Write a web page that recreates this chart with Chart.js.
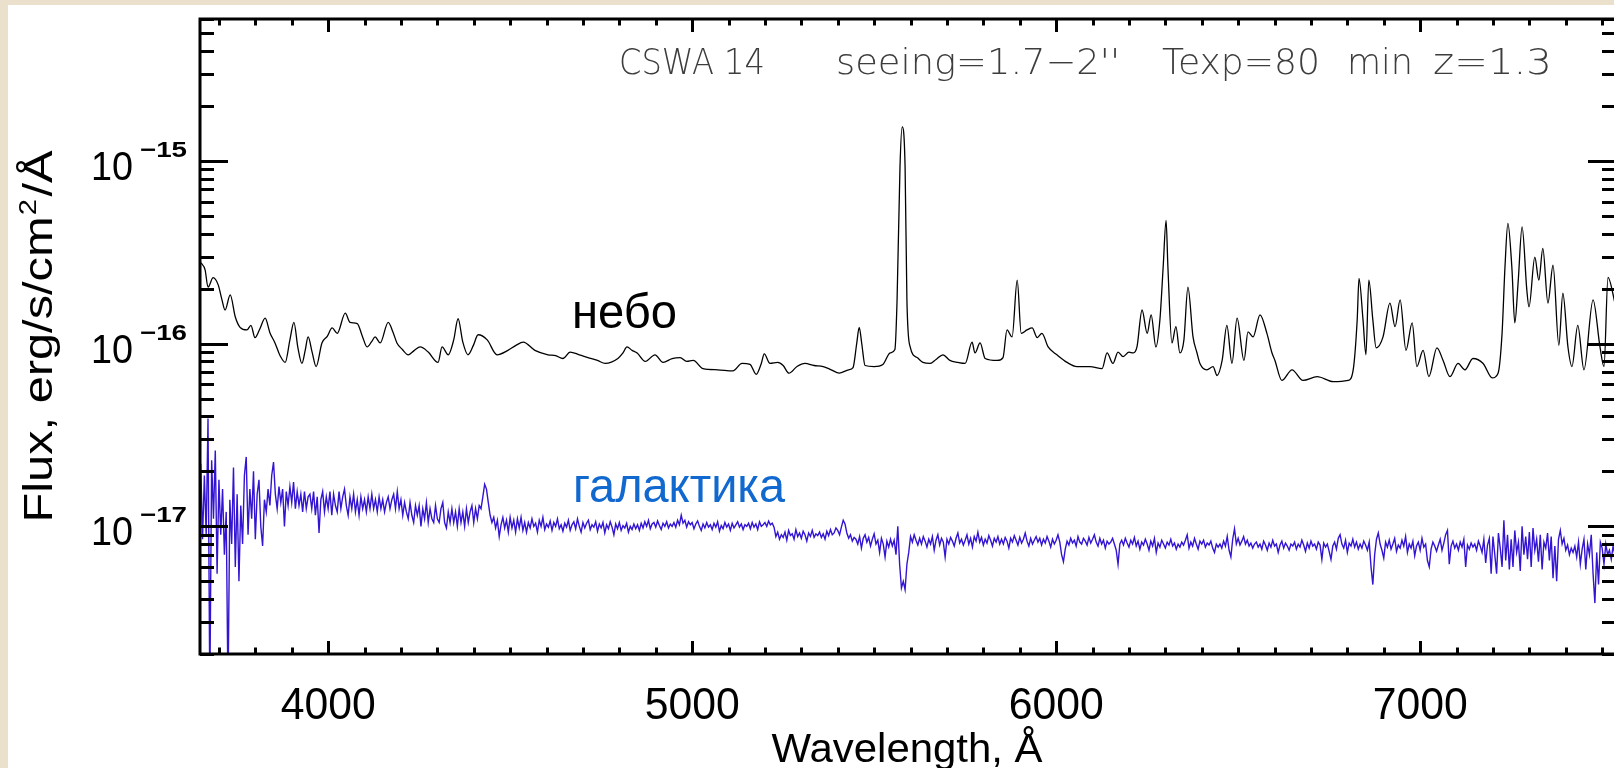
<!DOCTYPE html>
<html>
<head>
<meta charset="utf-8">
<script src="https://cdn.jsdelivr.net/npm/chart.js@4.4.1/dist/chart.umd.min.js"></script>
<style>
  html, body { margin: 0; padding: 0; width: 1614px; height: 768px; overflow: hidden; background: #ebe0cb; }
  #sheet { position: absolute; left: 8px; top: 5px; right: 0; bottom: 0; background: #fff; }
  #box { position: absolute; left: 0; top: 0; width: 1640px; height: 768px; }
</style>
</head>
<body>
<div id="sheet"></div>
<div id="box"><canvas id="spec"></canvas></div>
<script>
// Flux values are stored in units of 1e-17 erg/s/cm^2/A
const FLUX_UNIT = 1e-17;

// Axis ranges
const X_MIN = 3648, X_MAX = 7538;
const Y_MIN = 2.0e-18, Y_MAX = 6.0e-15;

// Tick marks and labels
const X_TICK_LABELS = [4000, 5000, 6000, 7000];
const X_MINOR_TICKS = [3700, 3800, 3900, 4000, 4100, 4200, 4300, 4400, 4500, 4600, 4700, 4800, 4900,
  5000, 5100, 5200, 5300, 5400, 5500, 5600, 5700, 5800, 5900, 6000, 6100, 6200, 6300, 6400, 6500,
  6600, 6700, 6800, 6900, 7000, 7100, 7200, 7300, 7400, 7500];
const Y_DECADES = [-18, -17, -16, -15];
const Y_TICK_LABELS = [-17, -16, -15];

// Night-sky spectrum ("небо")
const SKY_WAVE = [3651, 3662, 3670, 3684, 3698, 3708, 3717, 3731, 3745, 3758, 3777, 3788, 3799, 3812, 3827,
  3840, 3854, 3868, 3882, 3895, 3906, 3917, 3928, 3937, 3945, 3956, 3967, 3983, 3998, 4011, 4025, 4047,
  4060, 4080, 4094, 4107, 4120, 4129, 4143, 4165, 4178, 4189, 4204, 4220, 4237, 4253, 4275, 4302, 4313,
  4330, 4345, 4357, 4370, 4384, 4399, 4412, 4437, 4464, 4494, 4516, 4536, 4568, 4604, 4625, 4645, 4665,
  4690, 4714, 4740, 4761, 4796, 4810, 4821, 4835, 4849, 4871, 4898, 4920, 4945, 4967, 4985, 5003, 5030,
  5070, 5112, 5137, 5159, 5176, 5190, 5198, 5214, 5235, 5250, 5266, 5288, 5310, 5335, 5360, 5382, 5404,
  5430, 5442, 5452, 5459, 5466, 5475, 5500, 5524, 5544, 5557, 5563, 5571, 5577, 5585, 5590, 5599, 5618,
  5634, 5654, 5670, 5689, 5708, 5730, 5750, 5769, 5777, 5791, 5805, 5838, 5854, 5865, 5879, 5893, 5904,
  5920, 5934, 5948, 5961, 5978, 6002, 6030, 6057, 6093, 6126, 6140, 6156, 6170, 6184, 6200, 6212, 6222,
  6236, 6250, 6261, 6274, 6285, 6294, 6302, 6307, 6318, 6329, 6340, 6351, 6362, 6376, 6387, 6395, 6414,
  6431, 6442, 6456, 6469, 6483, 6497, 6516, 6527, 6541, 6560, 6579, 6593, 6601, 6620, 6648, 6678, 6717,
  6761, 6802, 6816, 6827, 6832, 6843, 6851, 6859, 6870, 6879, 6898, 6917, 6931, 6945, 6961, 6978, 6991,
  7008, 7024, 7046, 7063, 7082, 7104, 7123, 7145, 7173, 7198, 7214, 7225, 7233, 7241, 7252, 7260, 7269,
  7280, 7293, 7299, 7315, 7326, 7337, 7351, 7365, 7381, 7392, 7406, 7417, 7433, 7450, 7475, 7494, 7505,
  7516, 7533, 7549];
const SKY_FLUX = [27.7, 25.4, 20.4, 23.0, 21.0, 17.5, 15.3, 18.5, 14.0, 12.3, 11.9, 12.6, 10.8, 12.0, 13.8,
  11.5, 10.1, 8.6, 7.9, 10.5, 13.1, 9.5, 7.8, 9.2, 10.9, 9.0, 7.5, 10.1, 11.0, 12.2, 11.4, 14.7,
  13.1, 12.9, 11.0, 9.6, 10.3, 10.9, 10.1, 13.1, 11.6, 10.1, 9.3, 8.7, 9.2, 9.6, 9.0, 7.9, 9.6,
  8.7, 10.5, 13.7, 10.2, 8.7, 9.8, 11.2, 10.5, 8.7, 9.2, 9.8, 10.2, 9.2, 8.7, 8.6, 8.3, 9.0,
  8.7, 8.4, 8.1, 7.8, 8.3, 8.9, 9.6, 9.2, 8.9, 8.0, 8.7, 7.9, 8.3, 8.4, 8.0, 8.1, 7.3,
  7.2, 7.1, 7.8, 7.7, 6.8, 7.8, 8.8, 7.8, 7.9, 7.6, 6.9, 7.5, 7.8, 7.6, 7.5, 7.2, 6.9,
  7.2, 7.4, 10.0, 12.3, 10.0, 7.6, 7.5, 7.7, 8.9, 9.3, 17.4, 93, 154, 93, 17.4, 9.6, 8.4,
  7.9, 7.8, 8.2, 8.7, 8.1, 7.9, 7.8, 10.2, 8.9, 10.1, 8.3, 8.1, 8.4, 11.9, 10.9, 22.3, 11.4,
  11.9, 12.2, 10.8, 11.4, 9.6, 8.7, 7.9, 7.5, 7.5, 7.3, 8.9, 7.8, 9.0, 8.5, 9.0, 8.9, 9.6,
  15.3, 11.4, 14.4, 9.6, 13.5, 26.3, 47.4, 26.3, 10.1, 12.4, 8.9, 10.5, 20.4, 10.9, 8.9, 7.8, 7.2,
  7.5, 6.7, 8.1, 12.6, 7.8, 13.8, 8.1, 11.6, 10.9, 14.4, 11.4, 8.9, 8.1, 6.3, 7.2, 6.3, 6.6,
  6.2, 6.3, 7.2, 13.5, 22.8, 13.5, 8.7, 22.3, 13.5, 9.5, 10.9, 16.7, 12.4, 17.4, 9.2, 13.0, 7.5,
  9.2, 6.6, 9.5, 8.1, 6.6, 7.8, 7.2, 8.3, 7.8, 6.5, 6.9, 11.4, 26.3, 45.6, 26.0, 13.0, 21.5,
  43.6, 19.7, 15.9, 29.8, 22.3, 33.3, 16.7, 26.9, 9.8, 18.9, 9.6, 7.5, 12.6, 7.2, 17.4, 9.6, 7.5,
  23.1, 17.4, 12.0];

// Galaxy spectrum ("галактика"), sampled every 5 A from 3650 A; one row per 100 A
const GAL_START = 3650, GAL_STEP = 5;
const GAL_FLUX = [
  2.2, 0.85, 1.9, 0.9, 3.9, 0.12, 2.3, 1.1, 2.6, 0.55, 1.8, 0.9, 1.6, 0.7, 1.2, 0.12, 1.4, 0.8, 2.1, 0.6,
  1.5, 0.5, 1.3, 0.8, 1.9, 2.4, 0.9, 1.6, 1.1, 2.0, 0.85, 1.5, 1.8, 1.0, 0.78, 1.4, 1.2, 1.6, 1.3, 1.9,
  2.25, 1.5, 1.25, 1.65, 1.35, 1.6, 1.0, 1.55, 1.3, 1.65, 1.35, 1.75, 1.25, 1.55, 1.3, 1.5, 1.2, 1.55, 1.25, 1.45,
  1.5, 1.25, 1.55, 1.15, 1.45, 0.92, 1.4, 1.55, 1.2, 1.45, 1.25, 1.55, 1.15, 1.5, 1.3, 1.2, 1.55, 1.25, 1.45, 1.6,
  1.3, 1.15, 1.45, 1.25, 1.5, 1.2, 1.4, 1.15, 1.45, 1.25, 1.4, 1.2, 1.45, 1.25, 1.5, 1.25, 1.4, 1.2, 1.45, 1.25,
  1.4, 1.2, 1.35, 1.45, 1.25, 1.4, 1.5, 1.25, 1.55, 1.25, 1.4, 1.15, 1.35, 1.2, 1.1, 1.35, 1.15, 1.05, 1.3, 1.15,
  1.3, 1.0, 1.25, 1.1, 1.35, 1.05, 1.25, 1.1, 1.05, 1.3, 1.1, 1.05, 1.25, 1.35, 1.05, 0.98, 1.2, 1.05, 1.25, 1.05,
  1.2, 1.0, 1.25, 1.05, 1.2, 1.0, 1.25, 1.05, 1.2, 1.3, 1.05, 1.25, 1.1, 1.3, 1.25, 1.45, 1.7, 1.6, 1.35, 1.15,
  1.05, 1.12, 0.98, 1.08, 0.88, 1.02, 1.12, 0.98, 1.08, 0.93, 1.12, 0.98, 1.08, 0.93, 1.1, 0.98, 1.12, 0.95, 1.05, 0.93,
  1.05, 0.98, 1.1, 1.0, 1.04, 0.93, 1.08, 1.0, 1.12, 0.96, 1.03, 0.99, 1.07, 0.95, 1.05, 1.0, 1.1, 0.97, 1.02, 0.94,
  1.04, 0.99, 1.08, 0.95, 1.02, 1.06, 0.97, 1.1, 1.0, 0.93, 1.05, 0.98, 1.04, 1.08, 0.96, 1.02, 0.99, 1.06, 0.94, 1.03,
  0.98, 1.05, 0.92, 1.02, 0.97, 1.06, 0.99, 0.9, 1.03, 0.97, 1.05, 0.95, 1.01, 0.98, 1.04, 0.93, 1.0, 0.96, 1.03, 0.97,
  1.02, 0.95, 1.04, 0.98, 1.06, 1.0, 1.08, 0.97, 1.03, 1.05, 0.99, 1.07, 1.01, 0.96, 1.04, 1.0, 1.06, 0.98, 1.03, 1.0,
  1.05, 0.99, 1.08, 1.02, 1.15, 1.04, 1.08, 0.99, 1.06, 1.02, 1.05, 0.97, 1.03, 1.07, 1.0, 0.95, 1.03, 0.98, 1.05, 0.99,
  1.02, 0.96, 1.04, 0.99, 1.06, 0.94, 1.01, 0.97, 1.05, 0.99, 1.03, 0.95, 1.04, 0.98, 1.02, 1.06, 0.99, 1.03, 0.96, 1.02,
  1.0, 1.04, 0.97, 1.05, 0.99, 1.03, 0.96, 1.06, 1.0, 1.02, 1.05, 1.0, 1.07, 1.02, 1.04, 0.99, 0.88, 0.93, 0.85, 0.9,
  0.87, 0.93, 0.84, 0.95, 0.89, 0.91, 0.85, 0.96, 0.88, 0.92, 0.86, 0.94, 0.9, 0.83, 0.92, 0.88, 0.95, 0.87, 0.91, 0.89,
  0.93, 0.87, 0.91, 0.85, 0.94, 0.89, 0.96, 0.9, 0.92, 0.98, 0.95, 0.9, 0.99, 1.08, 1.03, 0.92, 0.86, 0.9, 0.83, 0.87,
  0.85, 0.8, 0.88, 0.76, 0.86, 0.9, 0.82, 0.87, 0.78, 0.85, 0.91, 0.8, 0.84, 0.72, 0.86, 0.8, 0.68, 0.83, 0.77, 0.85,
  0.78, 0.84, 0.7, 1.0, 0.62, 0.46, 0.5, 0.45, 0.62, 0.72, 0.88, 0.82, 0.9, 0.84, 0.79, 0.86, 0.8, 0.88, 0.83, 0.77,
  0.85, 0.8, 0.88, 0.74, 0.84, 0.9, 0.79, 0.86, 0.82, 0.68, 0.85, 0.8, 0.87, 0.83, 0.78, 0.86, 0.92, 0.81, 0.85, 0.79,
  0.84, 0.9, 0.8, 0.86, 0.77, 0.88, 0.83, 0.93, 0.82, 0.87, 0.79, 0.85, 0.81, 0.89, 0.84, 0.78, 0.86, 0.82, 0.88, 0.8,
  0.85, 0.8, 0.87, 0.83, 0.76, 0.86, 0.82, 0.89, 0.84, 0.79, 0.87, 0.81, 0.85, 0.92, 0.83, 0.78, 0.86, 0.8, 0.84, 0.88,
  0.82, 0.86, 0.79, 0.85, 0.81, 0.88, 0.83, 0.77, 0.85, 0.8, 0.84, 0.9, 0.82, 0.7, 0.64, 0.75, 0.83, 0.79, 0.86, 0.81,
  0.84, 0.78, 0.88, 0.82, 0.8, 0.86, 0.83, 0.79, 0.87, 0.81, 0.85, 0.9, 0.82, 0.78, 0.86, 0.8, 0.84, 0.76, 0.83, 0.8,
  0.82, 0.86, 0.8, 0.74, 0.62, 0.8, 0.84, 0.79, 0.86, 0.81, 0.77, 0.84, 0.8, 0.87, 0.78, 0.83, 0.75, 0.82, 0.79, 0.85,
  0.8, 0.74, 0.83, 0.78, 0.86, 0.72, 0.81, 0.77, 0.84, 0.8, 0.76, 0.82, 0.79, 0.85, 0.78, 0.81, 0.75, 0.8, 0.77, 0.82,
  0.79, 0.84, 0.9, 0.76, 0.82, 0.78, 0.86, 0.8, 0.75, 0.83, 0.8, 0.84, 0.77, 0.81, 0.79, 0.83, 0.76, 0.72, 0.8, 0.77,
  0.8, 0.76, 0.83, 0.78, 0.88, 0.74, 0.68, 0.85, 0.97, 0.8, 0.86, 0.79, 0.83, 0.88, 0.8, 0.84, 0.78, 0.81, 0.76, 0.8,
  0.82, 0.77, 0.8, 0.75, 0.83, 0.79, 0.74, 0.81, 0.77, 0.84, 0.78, 0.8, 0.72, 0.79, 0.83, 0.76, 0.81, 0.78, 0.74, 0.8,
  0.78, 0.82, 0.75, 0.8, 0.77, 0.84, 0.79, 0.73, 0.81, 0.76, 0.83, 0.78, 0.8, 0.75, 0.82, 0.79, 0.66, 0.81, 0.77, 0.8,
  0.73, 0.66, 0.78, 0.82, 0.75, 0.86, 0.9, 0.8, 0.76, 0.84, 0.72, 0.81, 0.78, 0.85, 0.77, 0.82, 0.75, 0.8, 0.76, 0.83,
  0.79, 0.74, 0.82, 0.6, 0.48, 0.7, 0.85, 0.92, 0.8, 0.74, 0.67, 0.82, 0.77, 0.84, 0.75, 0.8, 0.86, 0.73, 0.79, 0.76,
  0.84, 0.78, 0.88, 0.72, 0.8, 0.76, 0.83, 0.69, 0.78, 0.82, 0.74, 0.86, 0.77, 0.8, 0.65, 0.6, 0.75, 0.82, 0.78, 0.73,
  0.79, 0.85, 0.74, 0.81, 0.9, 0.95, 0.62, 0.78, 0.83, 0.76, 0.8, 0.74, 0.82, 0.77, 0.85, 0.6, 0.79, 0.75, 0.81, 0.77,
  0.8, 0.74, 0.83, 0.78, 0.72, 0.85, 0.63, 0.79, 0.86, 0.55, 0.88, 0.7, 0.55, 0.92, 0.76, 0.6, 1.08, 0.65, 0.9, 0.58,
  0.85, 0.6, 0.95, 0.72, 0.82, 0.57, 1.0, 0.7, 0.88, 0.66, 0.93, 0.6, 0.98, 0.74, 0.85, 0.64, 0.9, 0.58, 0.82, 0.76,
  0.92, 0.65, 0.88, 0.52, 0.78, 0.5, 0.85, 0.95, 0.8, 0.86, 0.74, 0.79, 0.7, 0.76, 0.72, 0.78, 0.68, 0.82, 0.62, 0.75,
  0.85, 0.58, 0.8, 0.7, 0.9, 0.55, 0.38, 0.72, 0.48, 0.82, 0.76, 0.62, 0.8, 0.7, 0.74, 0.66, 0.78, 0.7, 0.75, 0.72
];

const SKY_COLOR = '#000000';
const GAL_COLOR = '#3414d2';
const GAL_LABEL_COLOR = '#1168cf';
const SANS = '"Liberation Sans", Arial, Helvetica, sans-serif';

const skyPoints = SKY_WAVE.map((w, i) => ({ x: w, y: SKY_FLUX[i] * FLUX_UNIT }));
const galPoints = GAL_FLUX.map((f, i) => ({ x: GAL_START + i * GAL_STEP, y: f * FLUX_UNIT }));

// Draws text so that it starts at x (or is centred / right-aligned) and spans the given width
function fitText(ctx, txt, x, y, font, width, color, align) {
  ctx.save();
  ctx.font = font;
  ctx.fillStyle = color;
  ctx.textAlign = 'left';
  ctx.textBaseline = 'alphabetic';
  const w = ctx.measureText(txt).width;
  const s = width ? width / w : 1;
  const full = w * s;
  const x0 = align === 'center' ? x - full / 2 : align === 'right' ? x - full : x;
  ctx.translate(x0, y);
  ctx.scale(s, 1);
  ctx.fillText(txt, 0, 0);
  ctx.restore();
}

function seg(ctx, x1, y1, x2, y2) {
  ctx.beginPath();
  ctx.moveTo(x1, y1);
  ctx.lineTo(x2, y2);
  ctx.stroke();
}

// Frame with inward ticks on all four sides, tick labels, titles and annotations
const framePlugin = {
  id: 'idlFrame',
  afterDatasetsDraw(chart) {
    const { ctx, chartArea: a } = chart;
    const xs = chart.scales.x, ys = chart.scales.y;
    ctx.save();
    ctx.strokeStyle = '#000';
    ctx.lineWidth = 3;
    ctx.lineCap = 'butt';

    // x ticks (bottom and top)
    X_MINOR_TICKS.forEach(v => {
      const px = Math.round(xs.getPixelForValue(v)) + 0.5;
      const len = X_TICK_LABELS.includes(v) ? 13 : 6.5;
      seg(ctx, px, a.bottom, px, a.bottom - len);
      seg(ctx, px, a.top, px, a.top + len);
    });

    // y ticks (left and right), log decades with 2..9 subdivisions
    Y_DECADES.forEach(d => {
      for (let m = 1; m <= 9; m++) {
        const v = m * Math.pow(10, d);
        if (v < Y_MIN * 0.999 || v > Y_MAX * 1.001) continue;
        const py = Math.round(ys.getPixelForValue(v)) + 0.5;
        const len = m === 1 ? 28 : 14;
        seg(ctx, a.left, py, a.left + len, py);
        seg(ctx, a.right, py, a.right - len, py);
      }
    });

    // frame
    ctx.strokeRect(a.left, a.top, a.right - a.left, a.bottom - a.top);
    ctx.restore();

    // x tick labels
    X_TICK_LABELS.forEach(v => {
      fitText(ctx, String(v), xs.getPixelForValue(v), 719, '44px ' + SANS, 95, '#000', 'center');
    });

    // y tick labels: 10 with a superscript exponent
    Y_TICK_LABELS.forEach(e => {
      const py = ys.getPixelForValue(Math.pow(10, e));
      fitText(ctx, '10', 133, py + 19, '41px ' + SANS, 42, '#000', 'right');
      fitText(ctx, '\u2212' + String(-e), 140, py - 4, 'bold 22px ' + SANS, 47, '#000', 'left');
    });

    // x axis title
    fitText(ctx, 'Wavelength, \u00C5', 907, 762, '40px ' + SANS, 271, '#000', 'center');

    // y axis title, rotated, with a superscript 2
    ctx.save();
    ctx.translate(52, (a.top + a.bottom) / 2);
    ctx.rotate(-Math.PI / 2);
    ctx.fillStyle = '#000';
    ctx.textBaseline = 'alphabetic';
    const mainFont = '40px ' + SANS, supFont = '24px ' + SANS;
    ctx.font = mainFont;
    const p1 = 'Flux, erg/s/cm', p3 = '/\u00C5';
    const w1 = ctx.measureText(p1).width, w3 = ctx.measureText(p3).width;
    ctx.font = supFont;
    const w2 = ctx.measureText('2').width + 3;
    const total = w1 + w2 + w3;
    const s = 372 / total;
    ctx.scale(s, 1);
    ctx.translate(-total / 2, 0);
    ctx.font = mainFont;
    ctx.fillText(p1, 0, 0);
    ctx.font = supFont;
    ctx.fillText('2', w1 + 1, -16);
    ctx.font = mainFont;
    ctx.fillText(p3, w1 + w2, 0);
    ctx.restore();

    // header line inside the frame
    const titleFont = '200 36px "DejaVu Sans", sans-serif';
    const grey = '#3d3d3d';
    fitText(ctx, 'CSWA 14', 619, 74, titleFont, 146, grey, 'left');
    fitText(ctx, 'seeing=1.7\u22122\'\'', 836, 74, titleFont, 284, grey, 'left');
    fitText(ctx, 'Texp=80', 1162, 74, titleFont, 158, grey, 'left');
    fitText(ctx, 'min', 1347, 74, titleFont, 66, grey, 'left');
    fitText(ctx, 'z=1.3', 1433, 74, titleFont, 119, grey, 'left');

    // spectrum labels
    fitText(ctx, 'небо', 572, 328, '49px ' + SANS, 105, '#000', 'left');
    fitText(ctx, 'галактика', 573, 502, '49px ' + SANS, 212, GAL_LABEL_COLOR, 'left');
  }
};

new Chart(document.getElementById('spec'), {
  type: 'line',
  data: {
    datasets: [
      {
        label: 'галактика',
        data: galPoints,
        borderColor: GAL_COLOR,
        borderWidth: 1.4,
        pointRadius: 0,
        tension: 0
      },
      {
        label: 'небо',
        data: skyPoints,
        borderColor: SKY_COLOR,
        borderWidth: 1.3,
        pointRadius: 0,
        cubicInterpolationMode: 'monotone'
      }
    ]
  },
  options: {
    responsive: true,
    maintainAspectRatio: false,
    animation: false,
    devicePixelRatio: 1,
    events: [],
    layout: { padding: { left: 200, top: 19, right: 24, bottom: 114 } },
    plugins: { legend: { display: false }, tooltip: { enabled: false } },
    scales: {
      x: { type: 'linear', min: X_MIN, max: X_MAX, display: false },
      y: { type: 'logarithmic', min: Y_MIN, max: Y_MAX, display: false }
    }
  },
  plugins: [framePlugin]
});
</script>
</body>
</html>
